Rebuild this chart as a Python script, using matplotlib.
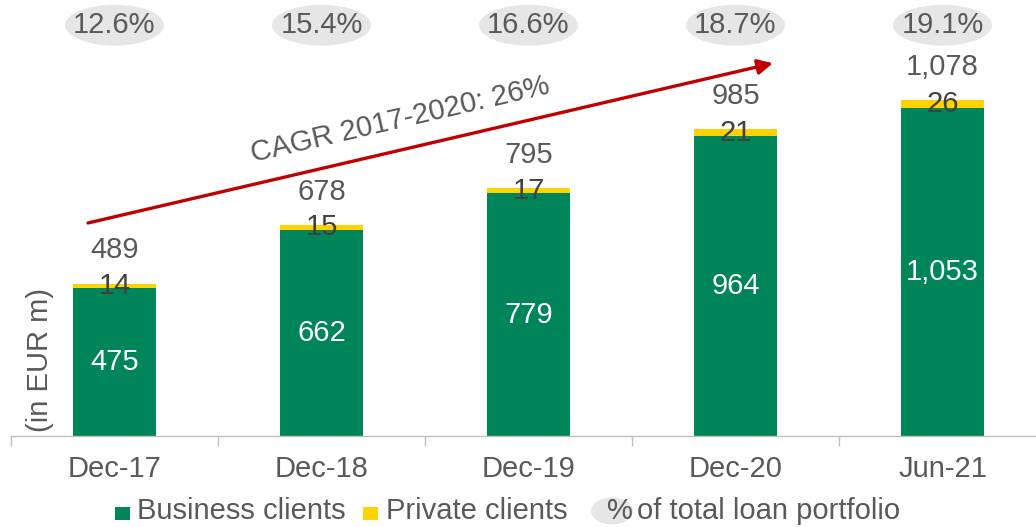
import matplotlib
matplotlib.use("Agg")
import matplotlib.pyplot as plt
from matplotlib.patches import Ellipse, Rectangle

plt.rcParams['font.family'] = ['Liberation Sans', 'DejaVu Sans']

categories = ["Dec-17", "Dec-18", "Dec-19", "Dec-20", "Jun-21"]
business = [475, 662, 779, 964, 1053]
private = [14, 15, 17, 21, 26]
totals = [489, 678, 795, 985, 1078]
share_labels = ["12.6%", "15.4%", "16.6%", "18.7%", "19.1%"]
business_labels = ["475", "662", "779", "964", "1,053"]
private_labels = ["14", "15", "17", "21", "26"]
total_labels = ["489", "678", "795", "985", "1,078"]
cagr_text = "CAGR 2017-2020: 26%"

GREEN = "#00855A"
YELLOW = "#FFD200"
TEXT = "#595959"
DARK = "#404040"
ELL = "#E6E6E6"
RED = "#C00000"
FS = 21

W, H = 1036, 527
fig = plt.figure(figsize=(W / 100, H / 100), dpi=100)
ax = fig.add_axes([11 / W, 1 - 436 / H, 1035 / W, 436 / H])
ax.set_xlim(-0.5, 4.5)
ax.set_ylim(0, 1400)

x = list(range(len(categories)))
bw = 0.40
ax.bar(x, business, width=bw, color=GREEN, zorder=2)
ax.bar(x, private, width=bw, bottom=business, color=YELLOW, zorder=2)

for i in x:
    ax.text(i, business[i] / 2, business_labels[i], ha="center", va="center",
            color="white", fontsize=FS, zorder=3)
    ax.text(i, business[i] + private[i] / 2, private_labels[i], ha="center",
            va="center", color=DARK, fontsize=FS, zorder=3)
    ax.annotate(total_labels[i], (i, totals[i]), xytext=(0, 24),
                textcoords="offset points", ha="center", va="center",
                color=TEXT, fontsize=FS, zorder=3)
    # share ellipses at top
    ax.add_patch(Ellipse((i, 1319), 0.478, 131, facecolor=ELL, edgecolor="none",
                         clip_on=False, zorder=1))
    ax.text(i, 1319, share_labels[i], ha="center", va="center", color=TEXT,
            fontsize=FS, zorder=3, clip_on=False)

# CAGR arrow
ax.annotate("", xy=(3.181, 1197), xytext=(-0.128, 684),
            arrowprops=dict(arrowstyle="-|>,head_length=0.9,head_width=0.45",
                            color=RED, lw=2.4, shrinkA=0, shrinkB=0), zorder=4)
ax.text(1.38, 1015, cagr_text, rotation=13, ha="center", va="center",
        rotation_mode="anchor", color=TEXT, fontsize=FS, zorder=4)

# axes styling
for s in ["top", "right", "left"]:
    ax.spines[s].set_visible(False)
ax.spines["bottom"].set_color("#BFBFBF")
ax.spines["bottom"].set_linewidth(1.0)
ax.set_yticks([])
ax.set_xticks(x)
ax.set_xticklabels(categories, fontsize=FS, color=TEXT)
ax.tick_params(axis="x", which="major", length=0, pad=14)
ax.set_xticks([-0.5, 0.5, 1.5, 2.5, 3.5, 4.5], minor=True)
ax.tick_params(axis="x", which="minor", length=7.5, color="#BFBFBF", width=1.0)

# y label
fig.text(40 / W, 1 - 360 / H, "(in EUR m)", rotation=90, ha="center", va="center",
         color=TEXT, fontsize=FS)

# legend (manual)
ly = 1 - 511 / H
fig.patches.append(Rectangle((115 / W, 1 - 520 / H), 15 / W, 13 / H,
                             transform=fig.transFigure, facecolor=GREEN,
                             edgecolor="none"))
fig.text(137 / W, ly, "Business clients", ha="left", va="center", color=TEXT, fontsize=FS)
fig.patches.append(Rectangle((363 / W, 1 - 520 / H), 15 / W, 13 / H,
                             transform=fig.transFigure, facecolor=YELLOW,
                             edgecolor="none"))
fig.text(386 / W, ly, "Private clients", ha="left", va="center", color=TEXT, fontsize=FS)
fig.patches.append(Ellipse((612 / W, 1 - 511 / H), 42 / W, 27 / H,
                           transform=fig.transFigure, facecolor=ELL,
                           edgecolor="none"))
fig.text(607 / W, ly, "%", ha="left", va="center", color=TEXT, fontsize=FS)
fig.text(637 / W, ly, "of total loan portfolio", ha="left", va="center", color=TEXT, fontsize=FS)

fig.savefig("out.png", dpi=100)
